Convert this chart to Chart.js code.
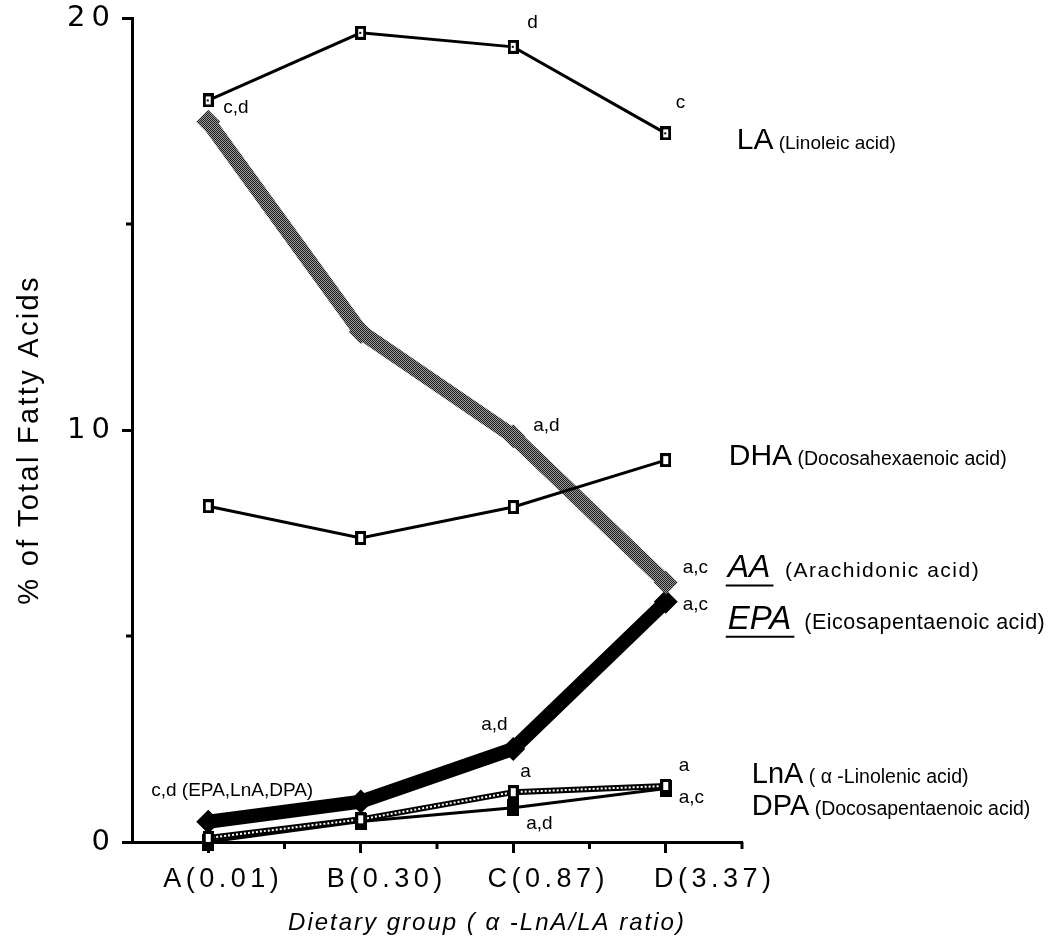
<!DOCTYPE html>
<html><head><meta charset="utf-8">
<script src="https://cdn.jsdelivr.net/npm/chart.js@4.4.1/dist/chart.umd.min.js"></script>
<style>html,body{margin:0;padding:0;background:#fff;}canvas{display:block}</style>
</head><body>
<canvas id="c" width="1057" height="941"></canvas>
<script>
// ---- data ----
const categories = ['A(0.01)', 'B(0.30)', 'C(0.87)', 'D(3.37)'];
const LA  = [18.0, 19.64, 19.3, 17.2];
const AA  = [17.48, 12.38, 9.85, 6.3];
const DHA = [8.15, 7.38, 8.13, 9.27];
const EPA = [0.49, 0.98, 2.26, 5.83];
const LnA = [0.1, 0.55, 1.21, 1.36];
const DPA = [0.0, 0.5, 0.83, 1.3];
const yMajorTicks = [0, 10, 20];
const yTitle = '% of Total Fatty Acids';
const xTitle = 'Dietary group ( \u03b1 -LnA/LA ratio)';
// the category labels in the original sit progressively right of their tick marks
const xLabelShift = [15, 26, 35, 49];

// significance letters: text, anchored series, category index, pixel offset
const letterNotes = [
  ['c,d', 'LA', 0, 15, 13], ['d', 'LA', 2, 14, -19], ['c', 'LA', 3, 10, -25],
  ['a,d', 'AA', 2, 20, -5], ['a,c', 'AA', 3, 17, -9], ['a,c', 'EPA', 3, 17, 8],
  ['a,d', 'EPA', 2, -32, -19], ['c,d (EPA,LnA,DPA)', 'EPA', 0, -57, -26],
  ['a', 'LnA', 2, 7, -15], ['a,d', 'DPA', 2, 13, 21],
  ['a', 'LnA', 3, 13, -15], ['a,c', 'DPA', 3, 13, 15]
];
// series names on the right
const seriesNames = [
  {s:'LA',  i:3, dx:71, dy:16, big:'LA',  bigSize:30, small:' (Linoleic acid)', smallSize:19, italic:false, sp:0},
  {s:'DHA', i:3, dx:63, dy:5,  big:'DHA', bigSize:30, small:' (Docosahexaenoic acid)', smallSize:19.5, italic:false, sp:0},
  {s:'AA',  i:3, dx:62, dy:-5, big:'AA',  bigSize:32, small:'  (Arachidonic acid)', smallSize:21, italic:true, sp:1.5},
  {s:'EPA', i:3, dx:62, dy:27, big:'EPA', bigSize:33, small:'  (Eicosapentaenoic acid)', smallSize:21.5, italic:true, sp:0.5},
  {s:'LnA', i:3, dx:86, dy:-3, big:'LnA', bigSize:29, small:' ( \u03b1 -Linolenic acid)', smallSize:19.5, italic:false, sp:0},
  {s:'DPA', i:3, dx:86, dy:27, big:'DPA', bigSize:29, small:' (Docosapentaenoic acid)', smallSize:19.5, italic:false, sp:0}
];

// ---- marker images ----
function rectMarker(w, h, border, dot, filled) {
  const c = document.createElement('canvas'); c.width = w; c.height = h;
  const x = c.getContext('2d');
  x.fillStyle = '#000'; x.fillRect(0, 0, w, h);
  if (!filled) { x.fillStyle = '#fff'; x.fillRect(border, border, w - 2*border, h - 2*border); }
  if (dot) { x.fillStyle = '#000'; x.fillRect(Math.floor(w/2) - 1, Math.floor(h/2) - 1, 2, 2); }
  return c;
}
const openDot = rectMarker(11, 14, 3, true, false);
const openRect = rectMarker(11, 14, 3, false, false);
const filledRect = rectMarker(12, 17, 3, false, true);

const canvas = document.getElementById('c');
const ctx = canvas.getContext('2d');
const pc = document.createElement('canvas'); pc.width = 2; pc.height = 2;
const pcx = pc.getContext('2d');
pcx.fillStyle = '#9a9a9a'; pcx.fillRect(0, 0, 2, 2);
pcx.fillStyle = '#1e1e1e'; pcx.fillRect(0, 0, 1, 1); pcx.fillRect(1, 1, 1, 1);
const grayPattern = ctx.createPattern(pc, 'repeat');

const FONT = 'Liberation Sans, Arial, sans-serif';

const deco = {
  id: 'deco',
  beforeDraw(chart) { chart.ctx.letterSpacing = '6px'; },
  beforeDatasetsDraw(chart) { chart.ctx.letterSpacing = '0px'; },
  afterDraw(chart) {
    const c = chart.ctx, xs = chart.scales.x, ys = chart.scales.y, ca = chart.chartArea;
    c.save();
    c.letterSpacing = '0px';
    c.strokeStyle = '#000'; c.lineWidth = 3;
    // minor y ticks
    [5, 15].forEach(v => {
      const y = ys.getPixelForValue(v);
      c.beginPath(); c.moveTo(ca.left - 6, y); c.lineTo(ca.left, y); c.stroke();
    });
    // minor x ticks at category boundaries
    const px = categories.map((_, i) => xs.getPixelForValue(i));
    const bounds = [];
    for (let i = 0; i < px.length - 1; i++) bounds.push((px[i] + px[i+1]) / 2);
    bounds.push(ca.right);
    bounds.forEach(x => { c.beginPath(); c.moveTo(x, ca.bottom); c.lineTo(x, ca.bottom + 7); c.stroke(); });

    // category labels
    c.fillStyle = '#000';
    c.font = '27px ' + FONT;
    c.letterSpacing = '4.5px';
    c.textAlign = 'center'; c.textBaseline = 'middle';
    categories.forEach((t, i) => c.fillText(t, px[i] + xLabelShift[i], ca.bottom + 38));

    const metaBy = {};
    chart.data.datasets.forEach((d, k) => { if (d.key) metaBy[d.key] = chart.getDatasetMeta(k); });
    const pt = (s, i) => metaBy[s].data[i];

    // letters
    c.letterSpacing = '0px';
    c.textBaseline = 'alphabetic'; c.textAlign = 'left';
    c.font = '19px ' + FONT;
    letterNotes.forEach(([t, s, i, dx, dy]) => {
      const p = pt(s, i); c.fillText(t, p.x + dx, p.y + dy);
    });
    // series names
    seriesNames.forEach(n => {
      const p = pt(n.s, n.i);
      const x0 = p.x + n.dx, y0 = p.y + n.dy;
      c.letterSpacing = '0px';
      c.font = (n.italic ? 'italic ' : '') + n.bigSize + 'px ' + FONT;
      c.fillText(n.big, x0, y0);
      const w = c.measureText(n.big).width;
      if (n.italic) {
        c.lineWidth = 2;
        c.beginPath(); c.moveTo(x0 - 2, y0 + 8); c.lineTo(x0 + w + 3, y0 + 8); c.stroke();
      }
      c.letterSpacing = n.sp + 'px';
      c.font = n.smallSize + 'px ' + FONT;
      c.fillText(n.small, x0 + w, y0);
    });
    // axis titles
    c.letterSpacing = '2px';
    c.textAlign = 'center'; c.textBaseline = 'middle';
    c.font = 'italic 24px ' + FONT;
    c.fillText(xTitle, (ca.left + ca.right) / 2 + 50, 923);
    c.save();
    c.translate(30, 440);
    c.rotate(-Math.PI / 2);
    c.letterSpacing = '2.3px';
    c.font = '29px ' + FONT;
    c.fillText(yTitle, 0, 0);
    c.restore();
    c.restore();
  }
};

const base = { tension: 0, fill: false, clip: false };
new Chart(ctx, {
  type: 'line',
  data: {
    labels: categories,
    datasets: [
      Object.assign({key:'LA', data: LA, borderColor:'#000', borderWidth:3, pointStyle: openDot, pointRadius: 7}, base),
      Object.assign({key:'DHA', data: DHA, borderColor:'#000', borderWidth:3, pointStyle: openRect, pointRadius: 7}, base),
      Object.assign({key:'AA', data: AA, borderColor: grayPattern, borderWidth:15, pointStyle:'rectRot', pointRadius:12,
        pointBackgroundColor: grayPattern, pointBorderColor: grayPattern, pointBorderWidth:0}, base),
      Object.assign({key:'EPA', data: EPA, borderColor:'#000', borderWidth:14, pointStyle:'rectRot', pointRadius:12,
        pointBackgroundColor:'#000', pointBorderColor:'#000', pointBorderWidth:0}, base),
      Object.assign({data: LnA, borderColor:'#fff', borderWidth:2, borderDash:[2,2], pointStyle: openRect, pointRadius: 7}, base),
      Object.assign({key:'LnA', data: LnA, borderColor:'#000', borderWidth:6, pointStyle: openRect, pointRadius: 7}, base),
      Object.assign({key:'DPA', data: DPA, borderColor:'#000', borderWidth:3, pointStyle: filledRect, pointRadius: 8}, base)
    ]
  },
  options: {
    responsive: false, animation: false, devicePixelRatio: 1,
    layout: { padding: { left: 0, top: 18, right: 315, bottom: 0 } },
    plugins: { legend: { display: false }, tooltip: { enabled: false } },
    scales: {
      x: {
        type: 'category', offset: true,
        grid: { display: true, drawOnChartArea: false, drawTicks: true, tickLength: 11, tickColor: '#000', tickWidth: 3, offset: false },
        border: { display: true, color: '#000', width: 3 },
        ticks: { display: false },
        afterFit(s) { s.height = 99; s.paddingLeft = 0; s.paddingRight = 0; }
      },
      y: {
        min: 0, max: 20,
        grid: { display: true, drawOnChartArea: false, drawTicks: true, tickLength: 10, tickWidth: 3,
          tickColor: c => yMajorTicks.includes(c.tick && c.tick.value) ? '#000' : 'rgba(0,0,0,0)' },
        border: { display: true, color: '#000', width: 3 },
        ticks: { stepSize: 5, color: '#000', font: { family: 'DejaVu Sans', size: 29 }, padding: 6,
          callback: v => yMajorTicks.includes(v) ? String(v) : '' },
        afterFit(s) { s.width = 132; s.paddingTop = 0; s.paddingBottom = 0; }
      }
    }
  },
  plugins: [deco]
});
</script>
</body></html>
